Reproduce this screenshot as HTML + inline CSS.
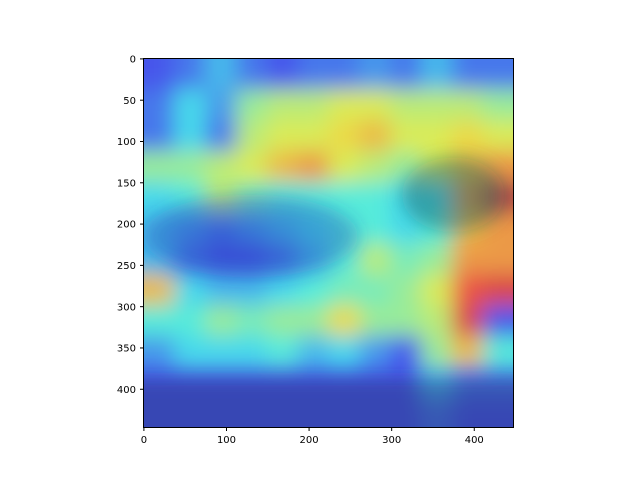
<!DOCTYPE html>
<html><head><meta charset="utf-8"><style>
body{margin:0;background:#fff;}
svg text{font-family:"DejaVu Sans","Liberation Sans",sans-serif;font-size:10px;fill:#000;}
</style></head><body>
<svg id="chart" width="640" height="480">
<defs>
<filter id="blur" x="-10%" y="-10%" width="120%" height="120%"><feGaussianBlur stdDeviation="11"/></filter>
<filter id="blur2" x="-20%" y="-20%" width="140%" height="140%"><feGaussianBlur stdDeviation="9"/></filter>
<clipPath id="clip"><rect x="143.5" y="58.5" width="370" height="369"/></clipPath>
</defs>
<g id="plot" clip-path="url(#clip)"></g>
<rect x="143.5" y="58.5" width="370" height="369" fill="none" stroke="#000" stroke-width="1"/>
<g id="axes"></g>
</svg>
<script>
const xTicks=[0,100,200,300,400];
const yTicks=[0,50,100,150,200,250,300,350,400];
const heat=[
[0.15,0.2,0.3,0.2,0.15,0.2,0.2,0.25,0.2,0.3,0.2,0.2],
[0.2,0.35,0.25,0.5,0.55,0.55,0.6,0.6,0.55,0.55,0.55,0.5],
[0.2,0.35,0.2,0.55,0.6,0.6,0.65,0.7,0.6,0.6,0.65,0.6],
[0.5,0.5,0.55,0.6,0.7,0.75,0.6,0.55,0.5,0.6,0.7,0.75],
[0.35,0.4,0.55,0.45,0.4,0.4,0.4,0.4,0.35,0.35,0.75,0.95],
[0.3,0.25,0.2,0.25,0.3,0.35,0.4,0.4,0.35,0.4,0.7,0.75],
[0.3,0.2,0.15,0.15,0.2,0.3,0.4,0.55,0.45,0.5,0.75,0.75],
[0.7,0.35,0.3,0.3,0.35,0.4,0.45,0.45,0.5,0.6,0.85,0.9],
[0.4,0.4,0.5,0.45,0.5,0.5,0.65,0.5,0.5,0.55,0.9,0.15],
[0.25,0.35,0.35,0.35,0.4,0.3,0.35,0.25,0.15,0.5,0.7,0.4],
[0.15,0.15,0.15,0.15,0.15,0.15,0.15,0.15,0.15,0.3,0.2,0.2],
[0.15,0.15,0.15,0.15,0.15,0.15,0.15,0.15,0.15,0.2,0.15,0.15]
];
const NS="http://www.w3.org/2000/svg";
const X0=143.5,Y0=58.5,S=370/448;
const sx=v=>X0+v*S, sy=v=>Y0+v*S;
function jet(t){
  const r=Math.min(1,Math.max(0,1.5-Math.abs(4*t-3)));
  const g=Math.min(1,Math.max(0,1.5-Math.abs(4*t-2)));
  const b=Math.min(1,Math.max(0,1.5-Math.abs(4*t-1)));
  const m=c=>Math.round(70+c*165);
  return `rgb(${m(r)},${m(g)},${m(b)})`;
}
const plot=document.getElementById('plot');
const bg=document.createElementNS(NS,'rect');
bg.setAttribute('x',X0-20);bg.setAttribute('y',Y0-20);bg.setAttribute('width',410);bg.setAttribute('height',410);bg.setAttribute('fill','#5a8aa0');


plot.appendChild(bg);
const hg=document.createElementNS(NS,'g');hg.setAttribute('filter','url(#blur)');


plot.appendChild(hg);
const nr=heat.length,nc=heat[0].length,cw=448/nc,ch=448/nr;
heat.forEach((row,i)=>row.forEach((v,j)=>{
  const r=document.createElementNS(NS,'rect');
  let x=j*cw,y=i*ch,w=cw,h=ch;
  if(j===0){x-=30;w+=30;} if(j===nc-1){w+=30;}
  if(i===0){y-=30;h+=30;} if(i===nr-1){h+=30;}
  r.setAttribute('x',sx(x));r.setAttribute('y',sy(y));
  r.setAttribute('width',w*S+0.5);r.setAttribute('height',h*S+0.5);
  r.setAttribute('fill',jet(v));
  
  
  hg.appendChild(r);
}));
const og=document.createElementNS(NS,'g');og.setAttribute('filter','url(#blur2)');


plot.appendChild(og);
function ell(cx,cy,rx,ry,fill,op,name){
  const e=document.createElementNS(NS,'ellipse');
  e.setAttribute('cx',sx(cx));e.setAttribute('cy',sy(cy));e.setAttribute('rx',rx*S);e.setAttribute('ry',ry*S);
  e.setAttribute('fill',fill);e.setAttribute('opacity',op);
  
  
  og.appendChild(e);
}
ell(130,215,130,50,'#2040b0',0.35,'loon-body');
ell(375,165,62,45,'#1a5a60',0.45,'loon-head');
const band=document.createElementNS(NS,'rect');
band.setAttribute('x',X0-20);band.setAttribute('y',sy(388));band.setAttribute('width',420);band.setAttribute('height',80);
band.setAttribute('fill','#283070');band.setAttribute('opacity',0.45);


og.appendChild(band);
const axes=document.getElementById('axes');
xTicks.forEach(t=>{
  const l=document.createElementNS(NS,'line');
  l.setAttribute('x1',sx(t)+0.4);l.setAttribute('x2',sx(t)+0.4);l.setAttribute('y1',427.5);l.setAttribute('y2',431);l.setAttribute('stroke','#000');
  
  
  axes.appendChild(l);
  const tx=document.createElementNS(NS,'text');
  tx.setAttribute('x',sx(t)+0.4);tx.setAttribute('y',443);tx.setAttribute('text-anchor','middle');tx.textContent=t;
  
  
  axes.appendChild(tx);
});
yTicks.forEach(t=>{
  const l=document.createElementNS(NS,'line');
  l.setAttribute('y1',sy(t)+0.4);l.setAttribute('y2',sy(t)+0.4);l.setAttribute('x1',140);l.setAttribute('x2',143.5);l.setAttribute('stroke','#000');
  
  
  axes.appendChild(l);
  const tx=document.createElementNS(NS,'text');
  tx.setAttribute('x',136);tx.setAttribute('y',sy(t)+4);tx.setAttribute('text-anchor','end');tx.textContent=t;
  
  
  axes.appendChild(tx);
});
</script>
</body></html>
